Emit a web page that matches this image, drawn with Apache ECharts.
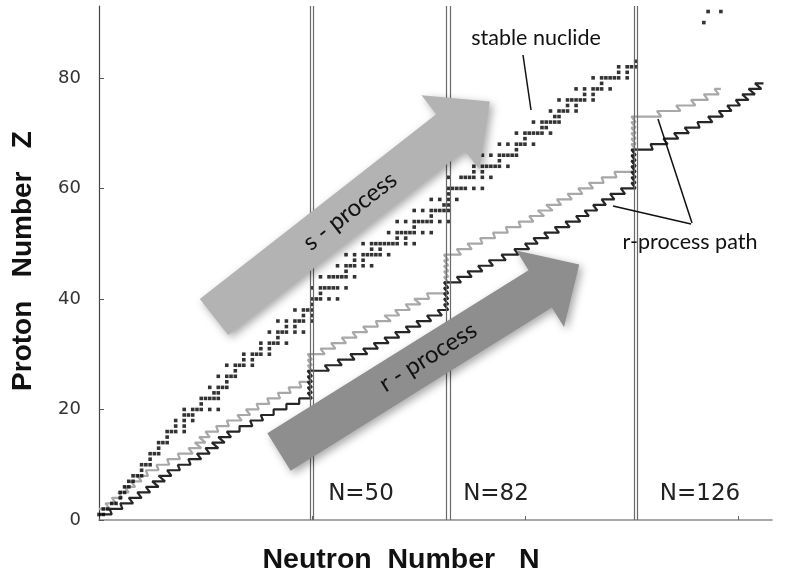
<!DOCTYPE html>
<html><head><meta charset="utf-8">
<script src="https://cdn.jsdelivr.net/npm/echarts@6/dist/echarts.min.js"></script>
<style>html,body{margin:0;padding:0;background:#fff}#c{width:801px;height:579px}</style>
</head><body><div id="c"></div>
<script>
// ---- Data ----
const stableZ = [1,2,3,4,5,6,7,8,9,10,11,12,13,14,15,16,17,18,19,20,21,22,23,24,25,26,27,28,29,30,31,32,33,34,35,36,37,38,39,40,41,42,
  44,45,46,47,48,49,50,51,52,53,54,55,56,57,58,59,60,
  62,63,64,65,66,67,68,69,70,71,72,73,74,75,76,77,78,79,80,81,82,83,90,92];
const stableN = [
  [0,1],[1,2],[3,4],[5],[5,6],[6,7],[7,8],[8,9,10],[10],[10,11,12],
  [12],[12,13,14],[14],[14,15,16],[16],[16,17,18,20],[18,20],[18,20,22],[20,21,22],[20,22,23,24,26,28],
  [24],[24,25,26,27,28],[27,28],[26,28,29,30],[30],[28,30,31,32],[32],[30,32,33,34,36],[34,36],[34,36,37,38,40],
  [38,40],[38,40,41,42,44],[42],[40,42,43,44,46,48],[44,46],[42,44,46,47,48,50],[48,50],[46,48,49,50],[50],[50,51,52,54,56],
  [52],[50,52,53,54,55,56,58],
  [52,54,55,56,57,58,60],[58],[56,58,59,60,62,64],[60,62],[58,60,62,63,64,65,66,68],[64,66],[62,64,65,66,67,68,69,70,72,74],[70,72],
  [68,70,71,72,73,74,76,78],[74],[70,72,74,75,76,77,78,80,82],[78],[74,76,78,79,80,81,82],[81,82],[78,80,82,84],[82],[82,83,84,85,86,88,90],
  [82,85,86,87,88,90,92],[88,90],[88,90,91,92,93,94,96],[94],[90,92,94,95,96,97,98],[98],[94,96,98,99,100,102],[100],[98,100,101,102,103,104,106],[104,105],
  [102,104,105,106,107,108],[107,108],[106,108,109,110,112],[110,112],[108,110,111,112,113,114,116],[114,116],[112,114,116,117,118,120],[118],[116,118,119,120,121,122,124],[122,124],
  [122,124,125,126],[126],[142],[143,146]
];
// r-process paths: [Z, N left, N right]
const darkPath = [
  [1,0,3],[2,2.5,5.5],[3,5,8],[4,7,10],[5,9,12],[6,11,14],[7,12.5,15.5],[8,14,17],[9,16,19],[10,18.5,21.5],
  [11,21,24],[12,23,26],[13,25,28],[14,26.5,29.5],[15,28,31],[16,30,33],[17,33,36],[18,35.5,38.5],[19,38,41],[20,41,44],
  [21,44,47],[22,47,50],[23,49,50],[24,49,50],[25,49,50],[26,49,50],
  [27,49,54],[28,53,57],[29,56,60],[30,59,63],[31,62,65.5],[32,64.5,68],[33,67,70.5],[34,69.5,73],[35,72,75.5],[36,74.5,78],
  [37,77,80.5],[38,79.5,82],[39,81,82],[40,81,82],[41,81,82],[42,81,82],
  [43,81,85],[44,84,87.5],[45,86.5,90],[46,89,92.5],[47,91.5,95.5],[48,94.5,98.5],[49,97.5,101],[50,100,103],
  [51,102,105.5],[52,104.5,108],[53,107,110.5],[54,109.5,113],[55,112,115],[56,114,117],[57,116,119],[58,118,121],
  [59,120,123.5],[60,122.5,126],[61,125,126],[62,125,126],[63,125,126],[64,125,126],[65,125,126],[66,125,126],
  [67,125,130],[68,129.5,133.5],[69,132.5,136],[70,135,138.5],[71,137.5,141],[72,140.5,144],[73,143,146.5],
  [74,145.5,148.5],[75,147.5,150.5],[76,149.5,152.5],[77,151,154],[78,152.5,155.5],[79,154,156]
];
const grayPath = [
  [2,0,2.5],[3,1.5,4],[4,3,5.5],[5,4.5,7],[6,6,8.5],[7,7.5,10],[8,9,11.5],[9,11,14],[10,13.5,16.5],[11,16,19],
  [12,18.5,22],[13,21,24],[14,22.5,25],[15,23.5,26],[16,25,28],[17,27.5,30.5],[18,30,33.5],[19,32.5,35.5],[20,34.5,37.5],
  [21,37,40],[22,39.5,42.5],[23,42,45],[24,44.5,47.5],[25,47,50],[26,49,50],[27,49,50],[28,49,50],[29,49,50],
  [30,49,53],[31,52,55.5],[32,54.5,58],[33,57,60.5],[34,59.5,63],[35,62,65.5],[36,65,68.5],[37,67,70.5],[38,69.5,73],
  [39,72,75.5],[40,74,77.5],[41,77,82],[42,81,82],[43,81,82],[44,81,82],[45,81,82],[46,81,82],[47,81,82],
  [48,81,85],[49,84,87.5],[50,86.5,90],[51,89.5,93],[52,92.5,96],[53,95.5,99],[54,98.5,102],[55,101,104.5],
  [56,103,106.5],[57,105,108.5],[58,107.5,111],[59,110,113.5],[60,112.5,116],[61,115,118.5],[62,118,121.5],[63,121,126],
  [64,125,126],[65,125,126],[66,125,126],[67,125,126],[68,125,126],[69,125,126],[70,125,126],[71,125,126],[72,125,126],
  [73,125,132],[74,131,136.5],[75,135.5,140],[76,139,143],[77,142,145.5],[78,144.5,146]
];
const magicN = [50, 82, 126];
const magicLabels = ['N=50', 'N=82', 'N=126'];
const yTickValues = [0, 20, 40, 60, 80];
const xTickValues = [50, 100, 150];

// ---- build ----
const stablePts = [];
stableZ.forEach((z, i) => stableN[i].forEach(n => stablePts.push([n, z])));
function pathPts(p) { const out = []; p.forEach(([z, a, b]) => { out.push([a, z]); out.push([b, z]); }); return out; }
const magicLines = [];
magicN.forEach(m => { magicLines.push({ xAxis: m - 0.38 }); magicLines.push({ xAxis: m + 0.38 }); });

function arrowPts(tx, ty, deg, L, w, hl, H) {
  const a = deg * Math.PI / 180, ux = Math.cos(a), uy = -Math.sin(a), px = Math.sin(a), py = Math.cos(a);
  const bx = tx + ux * L, by = ty + uy * L;
  return [
    [tx - px * w / 2, ty - py * w / 2],
    [bx - px * w / 2, by - py * w / 2],
    [bx - px * H / 2, by - py * H / 2],
    [bx + ux * hl, by + uy * hl],
    [bx + px * H / 2, by + py * H / 2],
    [bx + px * w / 2, by + py * w / 2],
    [tx + px * w / 2, ty + py * w / 2]
  ];
}
const shadow = { shadowBlur: 8, shadowOffsetX: 3, shadowOffsetY: 3, shadowColor: 'rgba(0,0,0,0.35)' };
const annFont = 'Lato, "Open Sans", sans-serif';
const titleFont = '"Liberation Sans", Arial, sans-serif';

const chart = echarts.init(document.getElementById('c'), null, { renderer: 'canvas' });
chart.setOption({
  animation: false,
  backgroundColor: '#fff',
  grid: { left: 99, top: 6, width: 673, height: 514 },
  xAxis: {
    type: 'value', min: 0, max: 158,
    axisLine: { show: true, lineStyle: { color: '#8a8a8a', width: 1.5 } },
    axisTick: { show: true, inside: true, length: 4, customValues: xTickValues, lineStyle: { color: '#666' } },
    axisLabel: { show: false },
    splitLine: { show: false }
  },
  yAxis: {
    type: 'value', min: 0, max: 93, interval: 20,
    axisLine: { show: true, lineStyle: { color: '#444', width: 1.2 } },
    axisTick: { show: true, inside: true, length: 5, customValues: yTickValues, lineStyle: { color: '#555' } },
    axisLabel: { customValues: yTickValues, fontSize: 18, color: '#333', margin: 18, fontFamily: 'DejaVu Sans' },
    splitLine: { show: false }
  },
  series: [
    {
      type: 'line', data: [], z: 1, silent: true,
      markLine: { symbol: 'none', silent: true, label: { show: false }, animation: false,
        lineStyle: { color: '#6a6a6a', width: 1.2, type: 'solid' }, data: magicLines }
    },
    { type: 'line', data: pathPts(grayPath), showSymbol: false, z: 2, lineStyle: { color: '#a8a8a8', width: 2.2 } },
    { type: 'line', data: pathPts(darkPath), showSymbol: false, z: 3, lineStyle: { color: '#262626', width: 2.2 } },
    { type: 'scatter', data: stablePts, symbol: 'rect', symbolSize: [3.6, 3.6], z: 4, itemStyle: { color: '#000' } }
  ],
  graphic: [
    { type: 'polygon', z: 100, shape: { points: arrowPts(214, 317, 38, 300, 46, 50, 94) }, style: Object.assign({ fill: '#b3b3b3' }, shadow) },
    { type: 'polygon', z: 100, shape: { points: arrowPts(279, 452, 32, 308, 44, 46, 90) }, style: Object.assign({ fill: '#8e8e8e' }, shadow) },
    { type: 'text', z: 101, x: 350, y: 211, rotation: 38 * Math.PI / 180,
      style: { text: 's - process', fontSize: 24, fontFamily: annFont, fill: '#111', align: 'center', verticalAlign: 'middle' } },
    { type: 'text', z: 101, x: 428, y: 357, rotation: 32 * Math.PI / 180,
      style: { text: 'r - process', fontSize: 24, fontFamily: annFont, fill: '#111', align: 'center', verticalAlign: 'middle' } },
    { type: 'text', z: 101, x: 536, y: 38, style: { text: 'stable nuclide', fontSize: 21.5, fontFamily: annFont, fill: '#111', align: 'center', verticalAlign: 'middle' } },
    { type: 'line', z: 101, shape: { x1: 523, y1: 55, x2: 531, y2: 110 }, style: { stroke: '#111', lineWidth: 1.5 } },
    { type: 'text', z: 101, x: 690, y: 242, style: { text: 'r-process path', fontSize: 21.5, fontFamily: annFont, fill: '#111', align: 'center', verticalAlign: 'middle' } },
    { type: 'line', z: 101, shape: { x1: 658, y1: 119, x2: 692, y2: 223 }, style: { stroke: '#111', lineWidth: 1.5 } },
    { type: 'line', z: 101, shape: { x1: 613, y1: 206, x2: 691, y2: 224 }, style: { stroke: '#111', lineWidth: 1.5 } },
    { type: 'text', z: 101, x: 361, y: 494, style: { text: magicLabels[0], fontSize: 23, fontFamily: 'DejaVu Sans', fill: '#222', align: 'center', verticalAlign: 'middle' } },
    { type: 'text', z: 101, x: 496, y: 494, style: { text: magicLabels[1], fontSize: 23, fontFamily: 'DejaVu Sans', fill: '#222', align: 'center', verticalAlign: 'middle' } },
    { type: 'text', z: 101, x: 700, y: 494, style: { text: magicLabels[2], fontSize: 23, fontFamily: 'DejaVu Sans', fill: '#222', align: 'center', verticalAlign: 'middle' } },
    { type: 'text', z: 101, x: 23, y: 261, rotation: Math.PI / 2,
      style: { text: 'Proton   Number   Z', fontSize: 28, fontWeight: 'bold', fontFamily: titleFont, fill: '#111', align: 'center', verticalAlign: 'middle' } },
    { type: 'text', z: 101, x: 401, y: 560,
      style: { text: 'Neutron  Number   N', fontSize: 28.5, fontWeight: 'bold', fontFamily: titleFont, fill: '#111', align: 'center', verticalAlign: 'middle' } }
  ]
});
</script></body></html>
